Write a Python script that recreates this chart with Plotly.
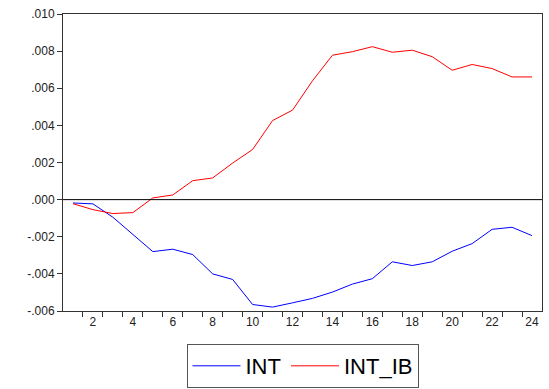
import plotly.graph_objects as go

periods = list(range(1, 25))
int_vals = [-0.00018, -0.00023, -0.00095, -0.00188, -0.00280, -0.00267, -0.00296, -0.00400,
            -0.00430, -0.00565, -0.00579, -0.00556, -0.00532, -0.00498, -0.00455, -0.00426,
            -0.00335, -0.00355, -0.00335, -0.00278, -0.00237, -0.00160, -0.00149, -0.00194]
int_ib_vals = [-0.00022, -0.00054, -0.00075, -0.00070, 0.00009, 0.00025, 0.00102, 0.00117,
               0.00197, 0.00270, 0.00426, 0.00482, 0.00640, 0.00778, 0.00797, 0.00824,
               0.00794, 0.00805, 0.00770, 0.00697, 0.00728, 0.00706, 0.00661, 0.00661]

y_tick_vals = [-0.006, -0.004, -0.002, 0.0, 0.002, 0.004, 0.006, 0.008, 0.010]
y_tick_text = ["-.006", "-.004", "-.002", ".000", ".002", ".004", ".006", ".008", ".010"]
x_label_vals = list(range(2, 25, 2))
x_tick_marks = [p + 0.5 for p in range(1, 24)]

fig = go.Figure()
fig.add_trace(go.Scatter(x=periods, y=int_vals, mode="lines", name="INT",
                         line=dict(color="#0000FF", width=1)))
fig.add_trace(go.Scatter(x=periods, y=int_ib_vals, mode="lines", name="INT_IB",
                         line=dict(color="#FF0000", width=1)))

fig.add_shape(type="line", xref="paper", x0=0, x1=1, yref="y", y0=0, y1=0,
              line=dict(color="black", width=1))

fig.update_layout(
    width=549, height=389,
    margin=dict(l=63, r=7, t=14, b=78, autoexpand=False),
    paper_bgcolor="white", plot_bgcolor="white",
    font=dict(family="Liberation Sans, Arial, sans-serif", size=12, color="#222"),
    showlegend=True,
    legend=dict(orientation="h", xref="container", x=(187 + 418) / 2 / 549, xanchor="center",
                yref="container", y=1 - 388 / 389, yanchor="bottom",
                bordercolor="#555", borderwidth=1, font=dict(size=22, color="black"),
                itemwidth=48, tracegroupgap=0),
    xaxis=dict(range=[0.5, 24.5], tickmode="array", tickvals=x_label_vals,
               ticktext=[str(v) for v in x_label_vals], ticks="",
               minor=dict(tickmode="array", tickvals=x_tick_marks, ticks="outside",
                          ticklen=5, tickcolor="#333", showgrid=False),
               showgrid=False, zeroline=False, showline=True, linecolor="#333",
               linewidth=1, mirror=True),
    yaxis=dict(range=[-0.006, 0.010], tickmode="array", tickvals=y_tick_vals,
               ticktext=y_tick_text, ticks="outside", ticklen=5, tickcolor="#333",
               showgrid=False, zeroline=False, showline=True, linecolor="#333",
               linewidth=1, mirror=True),
)

fig.write_html("out.html")
